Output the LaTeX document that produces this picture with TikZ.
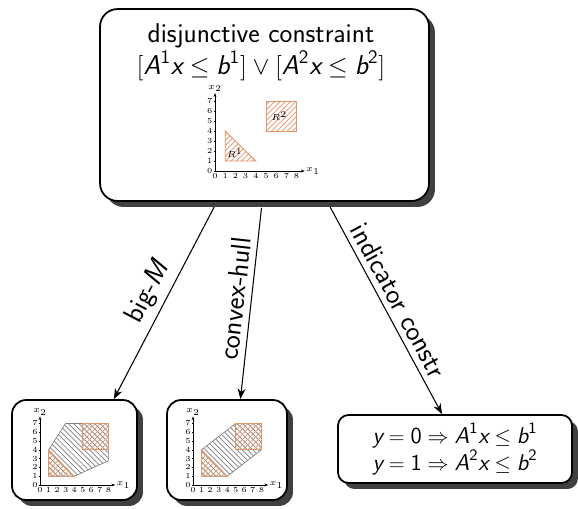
\documentclass[tikz,border=0pt]{standalone}
\usepackage{amsmath,amssymb}
\usepackage{tikz}
\usepackage{xcolor}
\definecolor{regorange}{RGB}{226, 150, 104}
\definecolor{shadowgray}{RGB}{64, 64, 64}
\usetikzlibrary{arrows.meta,calc,shadows,patterns}

% sans letters inside formulas
\newcommand{\sfit}[1]{\text{\sffamily\itshape #1}}
\newcommand{\sfup}[1]{\text{\sffamily #1}}

\tikzset{
  box/.style={draw, line width=1pt, rounded corners=8pt, fill=white,
    drop shadow={shadow xshift=3.4pt, shadow yshift=-3.4pt, fill=shadowgray, opacity=1}},
  conn/.style={-{Stealth[length=6pt,width=4.5pt]}, semithick, shorten <=3.4pt},
  edgelabel/.style={midway, sloped, above, font=\sffamily\fontsize{16}{19}\selectfont},
  plotfont/.style={font=\fontsize{4.4}{5}\selectfont, inner sep=0.6pt},
  hullfill/.style={draw=gray, line width=0.4pt, pattern=north west lines, pattern color=gray},
  regfill/.style={draw=regorange, line width=0.5pt, pattern=north east lines, pattern color=regorange},
}

% axes with ticks, #1 = prefix for node names
\newcommand{\regionaxes}[1]{%
  \draw[line width=0.35pt, -{Stealth[length=2.2pt,width=1.6pt]}] (0,0) -- (8.8,0)
    node[right, plotfont] (#1xlab) {$x_1$};
  \draw[line width=0.35pt, -{Stealth[length=2.2pt,width=1.6pt]}] (0,0) -- (0,7.8)
    node[above, plotfont] (#1ylab) {$x_2$};
  \foreach \i in {0,...,8}
    \draw[line width=0.25pt] (\i,0) -- (\i,-0.12) node[below, plotfont] (#1xt\i) {\i};
  \foreach \j in {0,...,7}
    \draw[line width=0.25pt] (0,\j) -- (-0.12,\j) node[left, plotfont] (#1yt\j) {\j};
}

\begin{document}
\begin{tikzpicture}[x=0.02cm, y=-0.02cm]
    \useasboundingbox (0,0) rectangle (578,508);

    % Boxes
    \node[box, rounded corners=10pt, minimum width=6.58cm, minimum height=3.84cm] (disj) at (264.5,105) {};
    \node[box, minimum width=2.5cm, minimum height=2.0cm] (bigm) at (74.5,450) {};
    \node[box, minimum width=2.4cm, minimum height=2.0cm] (hull) at (227,450) {};
    \node[box, rounded corners=6pt, minimum width=4.68cm, minimum height=1.36cm, align=center,
          font=\sffamily\fontsize{13}{13.5}\selectfont] (indic) at (455,449)
        {$\sfit{y} = \sfup{0} \Rightarrow \sfit{A}^{\sfup{1}}\sfit{x} \leq \sfit{b}^{\sfup{1}}$\\
         $\sfit{y} = \sfup{1} \Rightarrow \sfit{A}^{\sfup{2}}\sfit{x} \leq \sfit{b}^{\sfup{2}}$};

    % Title of the disjunction
    \node[align=center, font=\sffamily\fontsize{15.5}{18.5}\selectfont] (disjlabel) at (261,52)
        {disjunctive constraint\\
         $[\sfit{A}^{\sfup{1}}\sfit{x} \leq \sfit{b}^{\sfup{1}}] \vee [\sfit{A}^{\sfup{2}}\sfit{x} \leq \sfit{b}^{\sfup{2}}]$};

    % Regions R1 and R2
    \begin{scope}[shift={(215,171)}, x=0.204cm, y=0.2cm]
        \draw[regfill] (1,1) -- (4,1) -- (1,4) -- cycle;
        \draw[regfill] (5,4) rectangle (8,7);
        \node[plotfont] (rone) at (1.95,1.8) {$R^1$};
        \node[plotfont] (rtwo) at (6.3,5.5) {$R^2$};
        \regionaxes{top}
    \end{scope}

    % big-M relaxation
    \begin{scope}[shift={(40,485)}, x=0.171cm, y=0.176cm]
        \draw[hullfill] (1,1) -- (4,1) -- (8,2.75) -- (8,7) -- (3,7) -- (1,4) -- cycle;
        \draw[regfill] (1,1) -- (4,1) -- (1,4) -- cycle;
        \draw[regfill] (5,4) rectangle (8,7);
        \regionaxes{bm}
    \end{scope}

    % convex hull
    \begin{scope}[shift={(193,485)}, x=0.171cm, y=0.176cm]
        \draw[hullfill] (1,1) -- (4,1) -- (8,4) -- (8,7) -- (5,7) -- (1,4) -- cycle;
        \draw[regfill] (1,1) -- (4,1) -- (1,4) -- cycle;
        \draw[regfill] (5,4) rectangle (8,7);
        \regionaxes{ch}
    \end{scope}

    % Reformulations
    \draw[conn] ($(disj.south west)!0.356!(disj.south east)$) -- ($(bigm.north west)!0.81!(bigm.north east)$)
        node[edgelabel] (bigmlabel) {big-\textit{M}};
    \draw[conn] ($(disj.south west)!0.493!(disj.south east)$) -- ($(hull.north west)!0.61!(hull.north east)$)
        node[edgelabel] (hulllabel) {convex-hull};
    \draw[conn] ($(disj.south west)!0.69!(disj.south east)$) -- ($(indic.north west)!0.445!(indic.north east)$)
        node[edgelabel] (indiclabel) {indicator constr};
\end{tikzpicture}
\end{document}
